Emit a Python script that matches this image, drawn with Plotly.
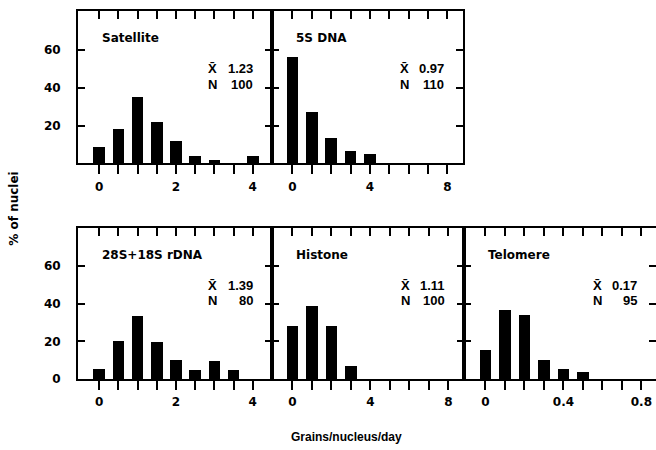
import plotly.graph_objects as go

# ---- data ----
sat_x = [0, 0.5, 1, 1.5, 2, 2.5, 3, 4]
sat_y = [9, 18.5, 35, 22, 12, 4, 2, 4]
dna5_x = [0, 1, 2, 3, 4]
dna5_y = [56, 27, 13.5, 6.5, 5]
rdna_x = [0, 0.5, 1, 1.5, 2, 2.5, 3, 3.5]
rdna_y = [5, 20, 33.5, 19.5, 10, 4.5, 9.5, 4.5]
his_x = [0, 1, 2, 3]
his_y = [28, 38.5, 28, 6.5]
tel_x = [0, 0.1, 0.2, 0.3, 0.4, 0.5]
tel_y = [15, 36.5, 34, 10, 5, 3.5]

names = ["Satellite", "5S DNA", "28S+18S rDNA", "Histone", "Telomere"]
means = ["1.23", "0.97", "1.39", "1.11", "0.17"]
counts = ["100", "110", "80", "100", "95"]

ticks_a = [0, 0.5, 1, 1.5, 2, 2.5, 3, 3.5, 4]
text_a = ["0", "", "", "", "2", "", "", "", "4"]
ticks_b = [0, 1, 2, 3, 4, 5, 6, 7, 8]
text_b = ["0", "", "", "", "4", "", "", "", "8"]
ticks_c = [0, 0.1, 0.2, 0.3, 0.4, 0.5, 0.6, 0.7, 0.8]
text_c = ["0", "", "", "", "0.4", "", "", "", "0.8"]
y_ticks = [0, 20, 40, 60]

FONT = "DejaVu Sans"
W, H = 656, 450

panels = [
    dict(x=sat_x, y=sat_y, w=0.3, rng=[-0.55, 4.5], tv=ticks_a, tt=text_a, px=(78, 272), py=(11, 166), yr=[0, 80.5], ylab=True, top=True),
    dict(x=dna5_x, y=dna5_y, w=0.6, rng=[-1.05, 8.8], tv=ticks_b, tt=text_b, px=(272, 463), py=(11, 166), yr=[0, 80.5], ylab=False, top=True),
    dict(x=rdna_x, y=rdna_y, w=0.3, rng=[-0.55, 4.5], tv=ticks_a, tt=text_a, px=(78, 272), py=(232, 385), yr=[0, 80], ylab=True, top=False),
    dict(x=his_x, y=his_y, w=0.6, rng=[-1.05, 8.8], tv=ticks_b, tt=text_b, px=(272, 464), py=(232, 385), yr=[0, 80], ylab=False, top=False),
    dict(x=tel_x, y=tel_y, w=0.06, rng=[-0.11, 0.875], tv=ticks_c, tt=text_c, px=(464, 656), py=(232, 385), yr=[0, 80], ylab=False, top=False),
]

fig = go.Figure()
layout = {}
annotations = []
tickfont = dict(family=FONT, size=12, color="black", weight="bold")

for i, p in enumerate(panels):
    n = i + 1
    m = i + 6
    xs = "" if n == 1 else str(n)
    xd = [p["px"][0] / W, p["px"][1] / W]
    yd = [1 - p["py"][1] / H, 1 - p["py"][0] / H]
    fig.add_trace(go.Bar(x=p["x"], y=p["y"], width=p["w"], marker=dict(color="black", line=dict(width=0)),
                         xaxis="x" + xs, yaxis="y" + xs, showlegend=False))
    fig.add_trace(go.Scatter(x=[None], y=[None], xaxis="x%d" % m, yaxis="y%d" % m, showlegend=False, hoverinfo="skip"))
    layout["xaxis" + xs] = dict(domain=xd, range=p["rng"], anchor="y" + xs, tickvals=p["tv"], ticktext=p["tt"],
                                ticks="outside", ticklen=9, tickwidth=2, tickcolor="black", showline=True,
                                linewidth=2, linecolor="black", showgrid=False, zeroline=False,
                                tickfont=tickfont, ticklabelstandoff=2)
    layout["xaxis%d" % m] = dict(domain=xd, range=p["rng"], anchor="y%d" % m, overlaying="x" + xs, side="top",
                                 tickvals=p["tv"], ticks="inside", ticklen=8, tickwidth=2, tickcolor="black",
                                 showline=True, linewidth=2, linecolor="black", showgrid=False, zeroline=False,
                                 showticklabels=False)
    ytext = [("0" if not p["top"] else ""), "20", "40", "60"] if p["ylab"] else ["", "", "", ""]
    layout["yaxis" + xs] = dict(domain=yd, range=p["yr"], anchor="x" + xs, tickvals=y_ticks, ticktext=ytext,
                                ticks="inside", ticklen=7, tickwidth=2, tickcolor="black", showline=True,
                                linewidth=2, linecolor="black", showgrid=False, zeroline=False,
                                tickfont=tickfont, ticklabelstandoff=13, showticklabels=p["ylab"])
    layout["yaxis%d" % m] = dict(domain=yd, range=p["yr"], anchor="x%d" % m, overlaying="y" + xs, side="right",
                                 tickvals=y_ticks[1:], ticks="inside", ticklen=7, tickwidth=2, tickcolor="black",
                                 showline=(n != 5), linewidth=2, linecolor="black", showgrid=False,
                                 zeroline=False, showticklabels=False)
    # panel texts
    xr = "x%s domain" % xs
    yr = "y%s domain" % xs
    f = dict(family=FONT, size=12, color="black", weight="bold")
    fs = dict(family="Liberation Sans", size=13, color="black", weight="bold")
    annotations.append(dict(text=names[i], xref=xr, yref=yr, x=0.113, y=0.822, xanchor="left", yanchor="middle",
                            showarrow=False, font=f))
    annotations.append(dict(text="X\u0304", xref=xr, yref=yr, x=0.662, y=0.622, xanchor="left", yanchor="middle",
                            showarrow=False, font=fs))
    annotations.append(dict(text=means[i], xref=xr, yref=yr, x=0.912, y=0.622, xanchor="right", yanchor="middle",
                            showarrow=False, font=fs))
    annotations.append(dict(text="N", xref=xr, yref=yr, x=0.662, y=0.52, xanchor="left", yanchor="middle",
                            showarrow=False, font=fs))
    annotations.append(dict(text=counts[i], xref=xr, yref=yr, x=0.912, y=0.52, xanchor="right", yanchor="middle",
                            showarrow=False, font=fs))

annotations.append(dict(text="% of nuclei", xref="paper", yref="paper", x=14 / W, y=1 - 212 / H, textangle=-90,
                        showarrow=False, xanchor="center", yanchor="middle",
                        font=dict(family=FONT, size=12, color="black", weight="bold")))
annotations.append(dict(text="Grains/nucleus/day", xref="paper", yref="paper", x=346 / W, y=1 - 444 / H,
                        showarrow=False, xanchor="center", yanchor="middle",
                        font=dict(family="Liberation Sans", size=12, color="black", weight="bold")))

fig.update_layout(**layout)
fig.update_layout(width=W, height=H, margin=dict(l=0, r=0, t=0, b=0), plot_bgcolor="white",
                  paper_bgcolor="white", annotations=annotations, bargap=0)
fig.write_html("out.html")
